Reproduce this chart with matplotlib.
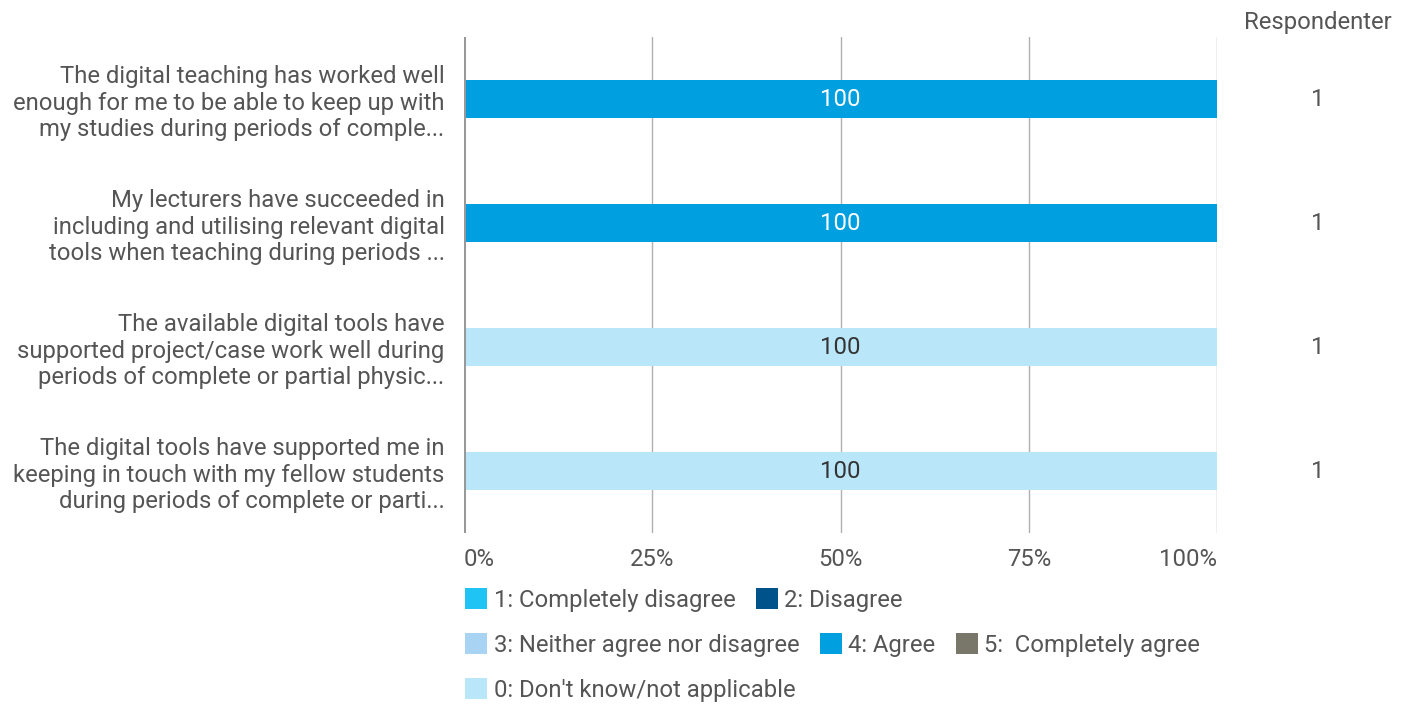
import matplotlib
matplotlib.use("Agg")
import matplotlib.pyplot as plt
import numpy as np

plt.rcParams['font.family'] = ['Roboto', 'DejaVu Sans']

categories = [
    "The digital teaching has worked well\nenough for me to be able to keep up with\nmy studies during periods of comple...",
    "My lecturers have succeeded in\nincluding and utilising relevant digital\ntools when teaching during periods ...",
    "The available digital tools have\nsupported project/case work well during\nperiods of complete or partial physic...",
    "The digital tools have supported me in\nkeeping in touch with my fellow students\nduring periods of complete or parti...",
]
series_names = ["1: Completely disagree", "2: Disagree", "3: Neither agree nor disagree",
                "4: Agree", "5:  Completely agree", "0: Don't know/not applicable"]
series_colors = ["#20C4F4", "#00538A", "#A9D3F3", "#009FDF", "#78776A", "#BAE6F9"]
label_colors = ["white", "white", "#333333", "white", "white", "#333333"]
values = {
    "1: Completely disagree": [0, 0, 0, 0],
    "2: Disagree": [0, 0, 0, 0],
    "3: Neither agree nor disagree": [0, 0, 0, 0],
    "4: Agree": [100, 100, 0, 0],
    "5:  Completely agree": [0, 0, 0, 0],
    "0: Don't know/not applicable": [0, 0, 100, 100],
}
respondents = [1, 1, 1, 1]
xticks = [0, 25, 50, 75, 100]
xticklabels = ["0%", "25%", "50%", "75%", "100%"]

FS = 17.2
W, H = 1410, 706
fig = plt.figure(figsize=(W / 100, H / 100), dpi=100)
ax = fig.add_axes([464 / W, 1 - 533 / H, (1217 - 464) / W, (533 - 37) / H])

y = np.arange(len(categories))
left = np.zeros(len(categories))
handles = []
for name, col, lc in zip(series_names, series_colors, label_colors):
    vals = np.array(values[name], dtype=float)
    bars = ax.barh(y, vals, left=left, height=0.3, color=col, zorder=3, label=name)
    handles.append(bars)
    for yi, v, l in zip(y, vals, left):
        if v > 0:
            ax.text(l + v / 2, yi, f"{v:g}", ha="center", va="center",
                    color=lc, fontsize=FS, zorder=4)
    left += vals

ax.set_xlim(0, 100)
ax.set_ylim(len(categories) - 0.5, -0.5)
for xt in xticks:
    if xt == 0:
        ax.axvline(xt, color="#999999", lw=2.2, zorder=5)
    else:
        ax.axvline(xt, color="#b0b0b0", lw=1.0, zorder=1)
for s in ax.spines.values():
    s.set_visible(False)
ax.set_xticks(xticks)
ax.set_xticklabels(xticklabels, fontsize=FS, color="#555555")
xtl = ax.get_xticklabels()
xtl[0].set_ha("left")
xtl[-1].set_ha("right")
ax.tick_params(axis="x", length=0, pad=11)
ax.set_yticks(y)
ax.set_yticklabels(categories, fontsize=FS, color="#555555", linespacing=1.2)
ax.tick_params(axis="y", length=0, pad=14)

# Respondenter column
fig.text(1318 / W, 1 - 22 / H, "Respondenter", ha="center", va="center",
         fontsize=FS, color="#555555")
for yi, r in zip(y, respondents):
    yd = ax.transData.transform((0, yi))[1]
    fig.text(1318 / W, yd / H, str(r), ha="center", va="center", fontsize=FS, color="#555555")

# Legend in three rows
rows = [[0, 1], [2, 3, 4], [5]]
row_y = [600, 645, 690]
for r, ry in zip(rows, row_y):
    leg = fig.legend([handles[i] for i in r], [series_names[i] for i in r],
                     loc="center left", bbox_to_anchor=(465 / W, 1 - ry / H),
                     ncol=len(r), frameon=False, fontsize=FS, handlelength=0.92,
                     handleheight=0.95, handletextpad=0.28, columnspacing=0.85,
                     borderpad=0, borderaxespad=0)
    for t in leg.get_texts():
        t.set_color("#555555")

fig.savefig("out.png", dpi=100)
